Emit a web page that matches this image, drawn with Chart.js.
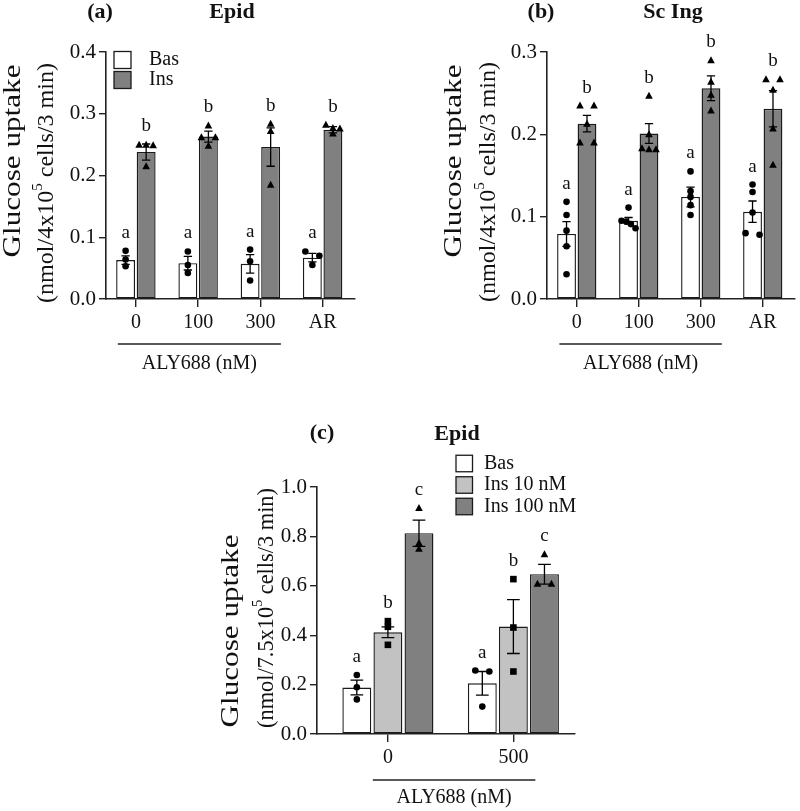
<!DOCTYPE html>
<html>
<head>
<meta charset="utf-8">
<script src="https://cdn.jsdelivr.net/npm/chart.js@4.4.1/dist/chart.umd.min.js"></script>
<style>
    body { margin: 0; background: #fff; width: 800px; height: 811px; position: relative; overflow: hidden; }
    canvas { position: absolute; }
</style>
</head>
<body>
<canvas id="chartA" width="400" height="400" style="left:0;top:0"></canvas>
<canvas id="chartB" width="400" height="400" style="left:400px;top:0"></canvas>
<canvas id="chartC" width="400" height="411" style="left:200px;top:400px"></canvas>
<script>
// ---------------- PANEL (a) Epid ----------------
const doseLabels = ["0", "100", "300", "AR"];
const basMeanA = [0.063, 0.058, 0.057, 0.067];
const basSemA = [0.007, 0.011, 0.015, 0.007];
const insMeanA = [0.238, 0.263, 0.246, 0.274];
const insSemA = [0.013, 0.009, 0.031, 0.005];
const basPointsA = [[0.078, 0.064, 0.053], [0.077, 0.055, 0.042], [0.080, 0.061, 0.030], [0.077, 0.070, 0.055]];
const insPointsA = [[0.250, 0.249, 0.250, 0.215], [0.281, 0.262, 0.262, 0.248], [0.284, 0.272, 0.185], [0.282, 0.276, 0.277, 0.268]];
const basLettersA = ["a", "a", "a", "a"];
const insLettersA = ["b", "b", "b", "b"];

// ---------------- PANEL (b) Sc Ing ----------------
const basMeanB = [0.079, 0.095, 0.124, 0.106];
const basSemB = [0.015, 0.004, 0.012, 0.013];
const insMeanB = [0.213, 0.201, 0.256, 0.231];
const insSemB = [0.010, 0.012, 0.015, 0.022];
const basPointsB = [[0.118, 0.102, 0.083, 0.064, 0.030], [0.111, 0.095, 0.094, 0.091, 0.086], [0.155, 0.131, 0.124, 0.114, 0.102], [0.139, 0.130, 0.105, 0.078, 0.080]];
const insPointsB = [[0.235, 0.235, 0.213, 0.190, 0.190], [0.247, 0.200, 0.182, 0.183, 0.182], [0.290, 0.264, 0.248, 0.229], [0.267, 0.267, 0.254, 0.207, 0.163]];
const basLettersB = ["a", "a", "a", "a"];
const insLettersB = ["b", "b", "b", "b"];

// ---------------- PANEL (c) Epid ----------------
const alyLabels = ["0", "500"];
const basMeanC = [0.188, 0.205];
const basSemC = [0.030, 0.048];
const ins10MeanC = [0.412, 0.435];
const ins10SemC = [0.022, 0.109];
const ins100MeanC = [0.813, 0.647];
const ins100SemC = [0.053, 0.040];
const basPointsC = [[0.239, 0.189, 0.140], [0.257, 0.253, 0.111]];
const ins10PointsC = [[0.457, 0.434, 0.361], [0.627, 0.431, 0.253]];
const ins100PointsC = [[0.915, 0.773, 0.750], [0.728, 0.608, 0.608]];
const basLettersC = ["a", "a"];
const ins10LettersC = ["b", "b"];
const ins100LettersC = ["c", "c"];

const SERIF = "'Liberation Serif', 'Times New Roman', serif";
Chart.defaults.font.family = SERIF;
Chart.defaults.color = "#111";

// -------------------- HELPERS --------------------
// spread points sideways when they sit on top of each other
function spreadOffsets(pixels, gap, spread) {
    const order = pixels.map((p, i) => i).sort((a, b) => pixels[a] - pixels[b]);
    const offs = new Array(pixels.length).fill(0);
    let group = [order[0]];
    const flush = () => {
        const k = group.length;
        group.forEach((idx, j) => offs[idx] = k === 1 ? 0 : -spread + 2 * spread * j / (k - 1));
    };
    for (let j = 1; j < order.length; j++) {
        if (pixels[order[j]] - pixels[group[group.length - 1]] < gap) group.push(order[j]);
        else { flush(); group = [order[j]]; }
    }
    flush();
    return offs;
}

function drawMarker(ctx, shape, x, y) {
    ctx.fillStyle = "#000";
    ctx.beginPath();
    if (shape === "circle") {
        ctx.arc(x, y, 3.3, 0, Math.PI * 2);
    } else if (shape === "square") {
        ctx.rect(x - 3.3, y - 3.3, 6.6, 6.6);
    } else {
        ctx.moveTo(x, y - 4);
        ctx.lineTo(x + 3.8, y + 3);
        ctx.lineTo(x - 3.8, y + 3);
        ctx.closePath();
    }
    ctx.fill();
}

function drawVertical(ctx, parts, cx, cy, size, targetLen) {
    ctx.save();
    ctx.translate(cx, cy);
    ctx.rotate(-Math.PI / 2);
    const base = size + "px " + SERIF;
    const sup = Math.round(size * 0.62) + "px " + SERIF;
    let w = 0;
    const widths = parts.map(pt => {
        ctx.font = pt.sup ? sup : base;
        const m = ctx.measureText(pt.t).width;
        w += m;
        return m;
    });
    ctx.scale(targetLen / w, 1);
    ctx.fillStyle = "#111";
    ctx.textAlign = "left";
    ctx.textBaseline = "middle";
    let x = -w / 2;
    parts.forEach((pt, i) => {
        ctx.font = pt.sup ? sup : base;
        ctx.fillText(pt.t, x, pt.sup ? -size * 0.36 : 0);
        x += widths[i];
    });
    ctx.restore();
}

function panelPlugin(p) {
    return {
        id: "panelExtras",
        afterDatasetsDraw(chart) {
            const ctx = chart.ctx;
            const y = chart.scales.y;
            ctx.save();
            p.series.forEach((s, d) => {
                const meta = chart.getDatasetMeta(d);
                meta.data.forEach((bar, i) => {
                    // error bar (SEM)
                    const top = y.getPixelForValue(s.means[i] + s.sems[i]);
                    const bot = y.getPixelForValue(s.means[i] - s.sems[i]);
                    const cap = bar.width * 0.22;
                    ctx.strokeStyle = "#000";
                    ctx.lineWidth = 1.3;
                    ctx.beginPath();
                    ctx.moveTo(bar.x, top); ctx.lineTo(bar.x, bot);
                    ctx.moveTo(bar.x - cap, top); ctx.lineTo(bar.x + cap, top);
                    ctx.moveTo(bar.x - cap, bot); ctx.lineTo(bar.x + cap, bot);
                    ctx.stroke();

                    // individual points
                    const py = s.points[i].map(v => y.getPixelForValue(v));
                    const offs = spreadOffsets(py, 4.5, 7);
                    py.forEach((yy, k) => drawMarker(ctx, s.marker, bar.x + offs[k], yy));

                    // significance letter
                    const hi = Math.max(s.means[i] + s.sems[i], ...s.points[i]);
                    ctx.fillStyle = "#111";
                    ctx.font = "19px " + SERIF;
                    ctx.textAlign = "center";
                    ctx.textBaseline = "middle";
                    ctx.fillText(s.letters[i], bar.x, y.getPixelForValue(hi) - 18);
                });
            });
            ctx.restore();
        },
        afterDraw(chart) {
            const ctx = chart.ctx;
            const x = chart.scales.x;
            ctx.save();
            ctx.fillStyle = "#111";
            ctx.textAlign = "center";
            ctx.textBaseline = "middle";
            ctx.font = "bold 22px " + SERIF;
            ctx.fillText(p.tag[0], p.tag[1], p.tag[2]);
            ctx.fillText(p.name[0], p.name[1], p.name[2]);

            // y axis title, two lines
            drawVertical(ctx, [{ t: p.yTitle1 }], p.yPos1[0], p.yPos1[1], 26, 193);
            drawVertical(ctx, [{ t: p.yTitle2[0] }, { t: p.yTitle2[1], sup: true }, { t: p.yTitle2[2] }], p.yPos2[0], p.yPos2[1], 24, 240);

            // legend
            if (p.legend) {
                const L = p.legend;
                p.series.forEach((s, i) => {
                    const cy = L.y + i * L.row;
                    ctx.fillStyle = s.color;
                    ctx.fillRect(L.x, cy - L.box / 2, L.box, L.box);
                    ctx.strokeStyle = "#1a1a1a";
                    ctx.lineWidth = 1.3;
                    ctx.strokeRect(L.x, cy - L.box / 2, L.box, L.box);
                    ctx.fillStyle = "#111";
                    ctx.font = "20px " + SERIF;
                    ctx.textAlign = "left";
                    ctx.fillText(s.label, L.textX, cy);
                });
            }

            // ALY688 bracket
            const B = p.bracket;
            ctx.strokeStyle = "#222";
            ctx.lineWidth = 1.5;
            ctx.beginPath();
            ctx.moveTo(x.getPixelForValue(B.from), B.y);
            ctx.lineTo(x.getPixelForValue(B.to), B.y);
            ctx.stroke();
            ctx.fillStyle = "#111";
            ctx.font = "20px " + SERIF;
            ctx.textAlign = "center";
            ctx.fillText(B.text, x.getPixelForValue((B.from + B.to) / 2), B.textY);
            ctx.restore();
        }
    };
}

function makePanel(canvasId, p) {
    const datasets = p.series.map(s => ({
        label: s.label,
        data: s.means.map((m, i) => ({ x: i, y: m })),
        backgroundColor: s.color,
        borderColor: "#1a1a1a",
        borderWidth: 1.4,
        borderSkipped: false,
        categoryPercentage: p.catPct,
        barPercentage: p.barPct
    }));
    const axisColor = "#222";
    return new Chart(document.getElementById(canvasId), {
        type: "bar",
        data: { datasets },
        options: {
            responsive: false,
            animation: false,
            devicePixelRatio: 1,
            layout: { autoPadding: false, padding: p.padding },
            plugins: { legend: { display: false }, tooltip: { enabled: false } },
            scales: {
                x: {
                    type: "linear",
                    min: p.xMin,
                    max: p.xMax,
                    offset: false,
                    grid: { offset: false, drawOnChartArea: false, tickLength: 8, color: axisColor, lineWidth: 1.4 },
                    border: { color: axisColor, width: 1.6 },
                    ticks: { font: { size: 20 }, padding: 4, color: "#111", callback: v => p.labels[v] ?? "" },
                    afterBuildTicks: s => { s.ticks = p.labels.map((_, i) => ({ value: i })); },
                    afterFit: s => { s.height = p.xHeight; }
                },
                y: {
                    min: 0,
                    max: p.yMax,
                    grid: { drawOnChartArea: false, tickLength: 7, color: axisColor, lineWidth: 1.4 },
                    border: { color: axisColor, width: 1.6 },
                    ticks: { stepSize: p.yStep, font: { size: 21 }, padding: 3, color: "#111", callback: v => v.toFixed(1) },
                    afterFit: s => { s.width = p.yWidth; }
                }
            }
        },
        plugins: [panelPlugin(p)]
    });
}

// -------------------- BUILD --------------------
const WHITE = "#ffffff", GREY = "#808080", LIGHT = "#c2c2c2";

makePanel("chartA", {
    labels: doseLabels,
    series: [
        { label: "Bas", means: basMeanA, sems: basSemA, points: basPointsA, letters: basLettersA, color: WHITE, marker: "circle" },
        { label: "Ins", means: insMeanA, sems: insSemA, points: insPointsA, letters: insLettersA, color: GREY, marker: "triangle" }
    ],
    yMax: 0.4, yStep: 0.1,
    xMin: -0.48, xMax: 3.52,
    catPct: 0.66, barPct: 0.92,
    padding: { left: 0, top: 52, right: 45, bottom: 0 },
    yWidth: 106, xHeight: 101,
    tag: ["(a)", 100, 12], name: ["Epid", 232, 12],
    yTitle1: "Glucose uptake", yTitle2: ["(nmol/4x10", "5", " cells/3 min)"],
    yPos1: [13, 161], yPos2: [47, 183],
    legend: { x: 114, y: 60, box: 17, row: 20, textX: 149 },
    bracket: { from: -0.29, to: 2.33, y: 344, textY: 364, text: "ALY688 (nM)" }
});

makePanel("chartB", {
    labels: doseLabels,
    series: [
        { label: "Bas", means: basMeanB, sems: basSemB, points: basPointsB, letters: basLettersB, color: WHITE, marker: "circle" },
        { label: "Ins", means: insMeanB, sems: insSemB, points: insPointsB, letters: insLettersB, color: GREY, marker: "triangle" }
    ],
    yMax: 0.3, yStep: 0.1,
    xMin: -0.48, xMax: 3.52,
    catPct: 0.66, barPct: 0.92,
    padding: { left: 0, top: 52, right: 5, bottom: 0 },
    yWidth: 147, xHeight: 101,
    tag: ["(b)", 141, 12], name: ["Sc Ing", 273, 12],
    yTitle1: "Glucose uptake", yTitle2: ["(nmol/4x10", "5", " cells/3 min)"],
    yPos1: [54, 161], yPos2: [89, 182],
    legend: null,
    bracket: { from: -0.28, to: 2.34, y: 344, textY: 364, text: "ALY688 (nM)" }
});

makePanel("chartC", {
    labels: alyLabels,
    series: [
        { label: "Bas", means: basMeanC, sems: basSemC, points: basPointsC, letters: basLettersC, color: WHITE, marker: "circle" },
        { label: "Ins 10 nM", means: ins10MeanC, sems: ins10SemC, points: ins10PointsC, letters: ins10LettersC, color: LIGHT, marker: "square" },
        { label: "Ins 100 nM", means: ins100MeanC, sems: ins100SemC, points: ins100PointsC, letters: ins100LettersC, color: GREY, marker: "triangle" }
    ],
    yMax: 1.0, yStep: 0.2,
    xMin: -0.565, xMax: 1.491,
    catPct: 0.743, barPct: 0.93,
    padding: { left: 0, top: 87, right: 25, bottom: 0 },
    yWidth: 117, xHeight: 77,
    tag: ["(c)", 122, 33], name: ["Epid", 257, 34],
    yTitle1: "Glucose uptake", yTitle2: ["(nmol/7.5x10", "5", " cells/3 min)"],
    yPos1: [31, 231], yPos2: [67, 208],
    legend: { x: 256, y: 63.5, box: 16.5, row: 21.5, textX: 284 },
    bracket: { from: -0.12, to: 1.175, y: 380, textY: 398, text: "ALY688 (nM)" }
});
</script>
</body>
</html>
